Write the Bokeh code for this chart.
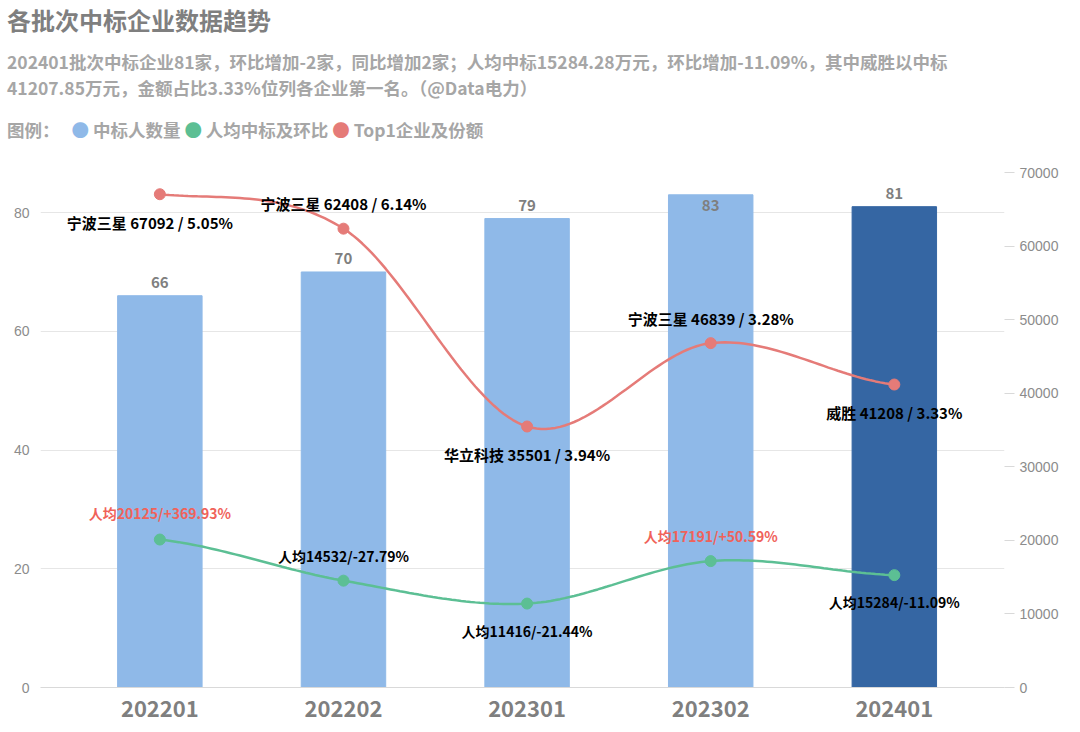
import numpy as np
from bokeh.plotting import figure
from bokeh.models import Range1d, LinearAxis, FixedTicker, Div
from bokeh.layouts import column
from bokeh.core.properties import value
from bokeh.embed import file_html
from bokeh.resources import INLINE

batches = ["202201", "202202", "202301", "202302", "202401"]
winners = [66, 70, 79, 83, 81]
avg_amount = [20125, 14532, 11416, 17191, 15284]
avg_change = ["+369.93%", "-27.79%", "-21.44%", "+50.59%", "-11.09%"]
top_names = ["宁波三星", "宁波三星", "华立科技", "宁波三星", "威胜"]
top_amount = [67092, 62408, 35501, 46839, 41208]
top_share = ["5.05%", "6.14%", "3.94%", "3.28%", "3.33%"]

FONT = "Noto Sans CJK SC"
x = np.arange(len(batches), dtype=float)

def spline(xs, ys, n=40):
    xs = np.asarray(xs, float); ys = np.asarray(ys, float)
    px = np.concatenate([[2*xs[0]-xs[1]], xs, [2*xs[-1]-xs[-2]]])
    py = np.concatenate([[ys[0]], ys, [ys[-1]]])
    ox, oy = [], []
    for i in range(1, len(px)-2):
        t = np.linspace(0, 1, n)
        for P, out in ((px, ox), (py, oy)):
            p0, p1, p2, p3 = P[i-1], P[i], P[i+1], P[i+2]
            out.extend(0.5*((2*p1) + (-p0+p2)*t + (2*p0-5*p1+4*p2-p3)*t**2 + (-p0+3*p1-3*p2+p3)*t**3))
    return ox, oy

header = Div(text=f"""
<div style="font-family:'{FONT}';width:1064px">
<div style="font-size:24px;font-weight:bold;color:#7f7f7f;margin:0 0 14px 2px;line-height:30px">各批次中标企业数据趋势</div>
<div style="font-size:17.5px;font-weight:bold;color:#a6a6a6;line-height:26px;margin-left:2px">202401批次中标企业81家，环比增加-2家，同比增加2家；人均中标15284.28万元，环比增加-11.09%，其中威胜以中标<br>41207.85万元，金额占比3.33%位列各企业第一名。（@Data电力）</div>
<div style="font-size:17.5px;font-weight:bold;color:#a6a6a6;margin:17px 0 0 2px;line-height:24px">图例：
&nbsp;&nbsp;<span style="color:#8fb9e8">●</span> 中标人数量
<span style="color:#5cbf94">●</span> 人均中标及环比
<span style="color:#e57b78">●</span> Top1企业及份额</div>
</div>""", width=1064, height=155)

LMAX = 87.6
p = figure(width=1064, height=562, output_backend="svg", toolbar_location=None,
           x_range=Range1d(-0.65, 4.6), y_range=Range1d(0, LMAX),
           min_border_top=2, min_border_bottom=40, min_border_left=40, min_border_right=60)
p.extra_y_ranges = {"r": Range1d(0, 70000 * LMAX / 86.7)}
p.outline_line_color = None
p.xgrid.grid_line_color = None
p.ygrid.grid_line_color = "#e6e6e6"
p.yaxis.ticker = FixedTicker(ticks=[0, 20, 40, 60, 80])
p.xaxis.ticker = FixedTicker(ticks=list(x))
p.xaxis.major_label_overrides = {i: b for i, b in enumerate(batches)}
for ax in (p.xaxis, p.yaxis):
    ax.axis_line_color = None
    ax.major_tick_line_color = None
    ax.minor_tick_line_color = None
p.xaxis.axis_line_color = "#d9d9d9"
p.xaxis.major_label_standoff = 6
p.xaxis.major_label_text_font_size = "22px"
p.xaxis.major_label_text_font_style = "bold"
p.xaxis.major_label_text_color = "#7f7f7f"
p.xaxis.major_label_text_font = FONT
p.yaxis.major_label_text_color = "#8c8c8c"
p.yaxis.major_label_text_font_size = "14px"
ra = LinearAxis(y_range_name="r", ticker=FixedTicker(ticks=list(range(0, 70001, 10000))))
ra.axis_line_color = None
ra.minor_tick_line_color = None
ra.major_tick_line_color = "#d9d9d9"
ra.major_tick_in = 0
ra.major_tick_out = 10
ra.major_label_text_color = "#8c8c8c"
ra.major_label_text_font_size = "14px"
p.add_layout(ra, "right")

colors = ["#8fb9e8"] * 4 + ["#3566a3"]
p.vbar(x=x, top=winners, width=0.46, color=colors)
p.text(x=x, y=winners, text=[str(v) for v in winners], y_offset=[-8, -8, -8, 16, -8],
       text_align="center", text_baseline="bottom", text_font=value(FONT), text_font_style="bold",
       text_font_size="15px", text_color="#7f7f7f")

sx, sy = spline(x, top_amount)
p.line(sx, sy, y_range_name="r", color="#e57b78", line_width=2.5)
p.scatter(x, top_amount, y_range_name="r", color="#e57b78", size=11)
gx, gy = spline(x, avg_amount)
p.line(gx, gy, y_range_name="r", color="#5cbf94", line_width=2.5)
p.scatter(x, avg_amount, y_range_name="r", color="#5cbf94", size=11)

top_lbl = [f"{n} {a} / {s}" for n, a, s in zip(top_names, top_amount, top_share)]
p.text(x=x, y=top_amount, y_range_name="r", text=top_lbl,
       x_offset=[-10, 0, 0, 0, 0], y_offset=[28, -25, 28, -25, 28],
       text_align="center", text_baseline="middle", text_font=value(FONT),
       text_font_style="bold", text_font_size="15px", text_color="black")
avg_lbl = [f"人均{a}/{c}" for a, c in zip(avg_amount, avg_change)]
p.text(x=x, y=avg_amount, y_range_name="r", text=avg_lbl,
       y_offset=[-27, -25, 27, -25, 27], text_align="center", text_baseline="middle",
       text_font=value(FONT), text_font_style="bold", text_font_size="14px",
       text_color=["#f0625a", "black", "black", "#f0625a", "black"])

open("out.html", "w").write(file_html(column(header, p, spacing=0), INLINE))
